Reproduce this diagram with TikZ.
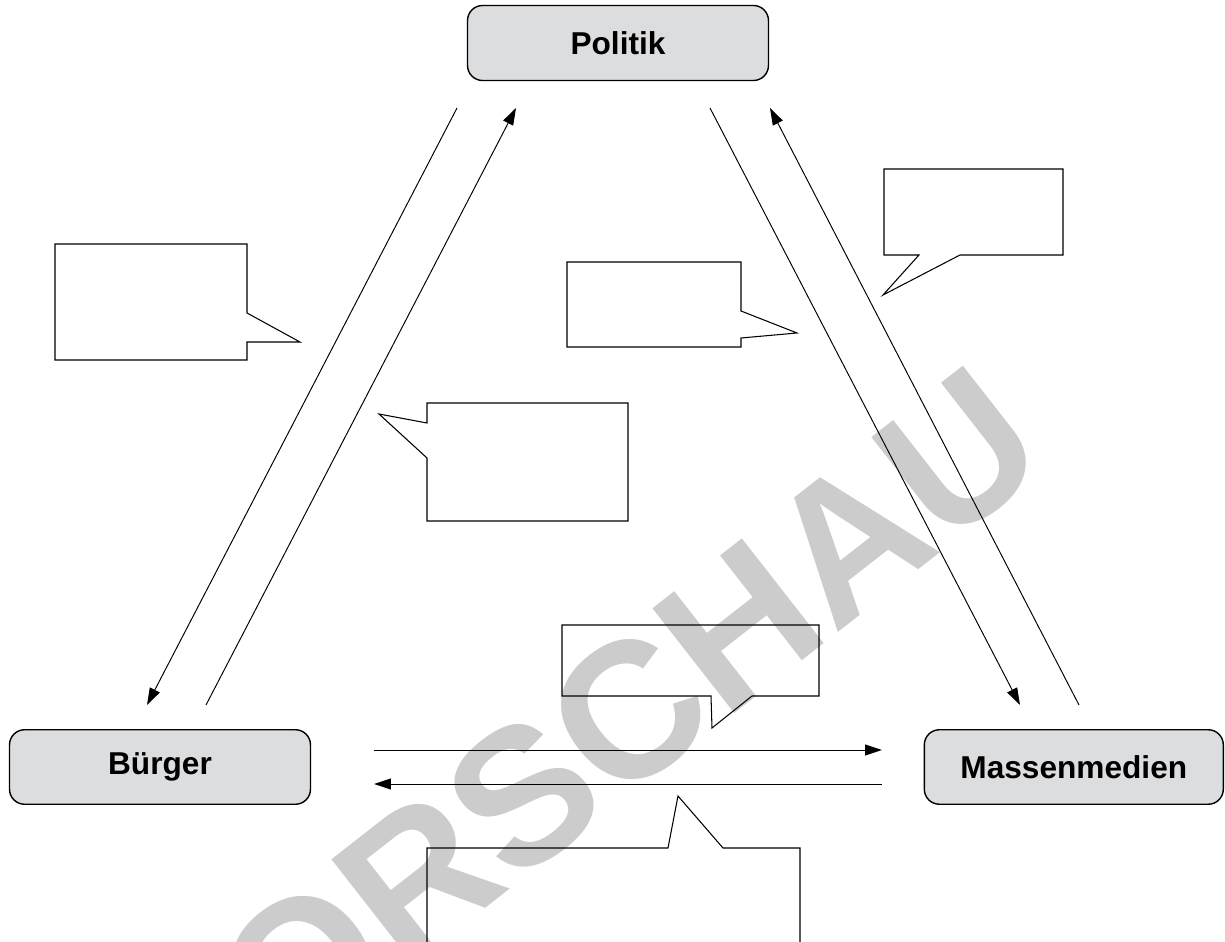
\documentclass[tikz,border=0pt]{standalone}
\usepackage{fontspec}
\setmainfont{Liberation Sans}
\usepackage{tikz}
\usepackage{xcolor}
\usetikzlibrary{positioning}
\usetikzlibrary{arrows.meta}
\definecolor{boxGray}{RGB}{220,221,223}
\definecolor{markGray}{RGB}{204,204,204}
\tikzset{
   actor/.style={draw=black, line width=0.8pt, fill=boxGray, rounded corners=0.3cm, minimum width=6.02cm, minimum height=1.49cm, inner sep=0mm, outer sep=0mm, font=\fontsize{18}{20}\selectfont\bfseries},
   lineWithArrow/.style={draw=black, line width=0.55pt, -{Triangle[length=0.34cm, width=0.22cm]}},
   bubble/.style={draw=black, line width=0.6pt, line join=miter},
   watermark/.style={rotate=38, text=markGray, inner sep=0mm, font=\fontsize{110}{110}\selectfont\bfseries},
}

\begin{document}
\begin{tikzpicture}[x=0.02cm, y=-0.02cm]
  \useasboundingbox (0,0) rectangle (1225,942);
  \begin{scope}
  \clip (0,0) rectangle (1225,942);
  %
  \node[watermark] (vorschau) at (578,752) {VORSCHAU};
  %
  \node[actor, minimum height=1.5cm] (politik) at (618,43) {Politik};
  \node[actor] (buerger) at (160,767) {Bürger};
  \node[actor, minimum width=5.98cm, right=12.28cm of buerger] (medien) {Massenmedien};
  %
  % Politik <-> Bürger
  \coordinate (politikLeftOut) at (457,108);
  \coordinate (buergerIn) at (147,705);
  \coordinate (buergerOut) at (206,705);
  \coordinate (politikLeftIn) at (516,108);
  \draw[lineWithArrow] (politikLeftOut) -- (buergerIn);
  \draw[lineWithArrow] (buergerOut) -- (politikLeftIn);
  %
  % Politik <-> Massenmedien
  \coordinate (politikRightOut) at (710,108);
  \coordinate (medienIn) at (1020,705);
  \coordinate (medienOut) at (1079,705);
  \coordinate (politikRightIn) at (770,108);
  \draw[lineWithArrow] (politikRightOut) -- (medienIn);
  \draw[lineWithArrow] (medienOut) -- (politikRightIn);
  %
  % Bürger <-> Massenmedien
  \coordinate (buergerRightOut) at (374,750);
  \coordinate (medienLeftIn) at (882,750);
  \coordinate (medienLeftOut) at (882,784);
  \coordinate (buergerRightIn) at (374,784);
  \draw[lineWithArrow] (buergerRightOut) -- (medienLeftIn);
  \draw[lineWithArrow] (medienLeftOut) -- (buergerRightIn);
  %
  % The empty speech bubbles.
  \draw[bubble] (55,244) -- (247,244) -- (247,313) -- (300,342) -- (247,342) -- (247,360) -- (55,360) -- cycle;
  \draw[bubble] (427,403) -- (628,403) -- (628,521) -- (427,521) -- (427,458) -- (379,414) -- (427,423) -- cycle;
  \draw[bubble] (567,262) -- (741,262) -- (741,311) -- (797,333) -- (741,338) -- (741,347) -- (567,347) -- cycle;
  \draw[bubble] (884,169) -- (1063,169) -- (1063,255) -- (960,255) -- (883,295) -- (919,255) -- (884,255) -- cycle;
  \draw[bubble] (562,625) -- (819,625) -- (819,696) -- (752,696) -- (712,728) -- (711,696) -- (562,696) -- cycle;
  \draw[bubble] (427,960) -- (427,848) -- (668,848) -- (678,796) -- (723,848) -- (800,848) -- (800,960);
  \end{scope}
\end{tikzpicture}
\end{document}
